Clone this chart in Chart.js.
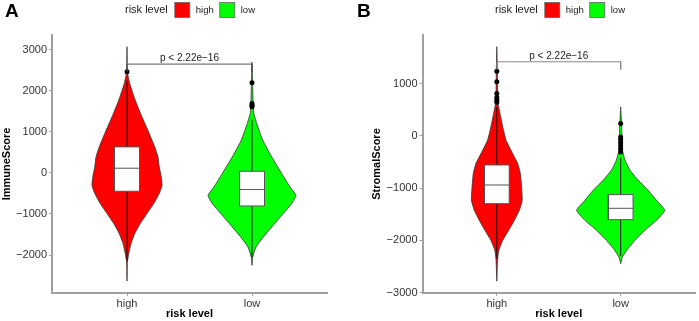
<!DOCTYPE html>
<html>
<head>
<meta charset="utf-8">
<script src="https://cdn.jsdelivr.net/npm/chart.js@4.4.1/dist/chart.umd.min.js"></script>
<style>
  html, body { margin: 0; padding: 0; background: #fff; }
  #wrap { display: flex; width: 699px; height: 321px; }
  .panel { position: relative; height: 321px; }
</style>
</head>
<body>
<div id="wrap">
  <div class="panel" style="width:350px"><canvas id="chartA"></canvas></div>
  <div class="panel" style="width:349px"><canvas id="chartB"></canvas></div>
</div>
<script>
// groups
const categories = ["high", "low"];
const groupColors = ["#ff0000", "#00ff00"];
const legendTitle = "risk level";
const pText = "p < 2.22e\u221216";

// panel A - ImmuneScore
const immuneTicks = [-2000, -1000, 0, 1000, 2000, 3000];
// violin outline: score levels and half widths (in category units)
const immuneHighLevels = [3073, 2463, 2180, 1773, 1366, 961, 634, 390, 146, -98, -300, -502, -746, -990, -1234, -1478, -1722, -1966, -2171, -2634];
const immuneHighWidths = [0, 0.003, 0.022, 0.066, 0.12, 0.178, 0.222, 0.248, 0.258, 0.274, 0.28, 0.258, 0.214, 0.16, 0.106, 0.062, 0.032, 0.014, 0.003, 0];
const immuneLowLevels = [2700, 2261, 1488, 1205, 798, 390, -15, -341, -544, -746, -990, -1317, -1561, -1805, -2049, -2251];
const immuneLowWidths = [0, 0.004, 0.012, 0.038, 0.086, 0.158, 0.238, 0.304, 0.352, 0.318, 0.25, 0.158, 0.09, 0.032, 0.006, 0];
// box: q1, median, q3
const immuneBoxHigh = [-446, 115, 634];
const immuneBoxLow = [-805, -405, 41];
const immuneWhiskerHigh = [-2150, 2250];
const immuneWhiskerLow = [-2050, 1300];
const immuneOutliersHigh = [2463];
const immuneOutliersLow = [2195, 1690, 1650, 1610];

// panel B - StromalScore
const stromalTicks = [-3000, -2000, -1000, 0, 1000];
const stromalHighLevels = [1705, 1259, 651, 429, 172, -82, -337, -529, -720, -977, -1232, -1423, -1615, -1807, -1998, -2190, -2381, -2778];
const stromalHighWidths = [0, 0.004, 0.008, 0.026, 0.048, 0.075, 0.128, 0.169, 0.19, 0.2, 0.205, 0.182, 0.142, 0.096, 0.048, 0.016, 0.006, 0];
const stromalLowLevels = [556, 200, -100, -274, -466, -657, -849, -1040, -1232, -1423, -1615, -1807, -1998, -2190, -2318, -2444];
const stromalLowWidths = [0, 0.008, 0.012, 0.014, 0.035, 0.075, 0.142, 0.222, 0.289, 0.356, 0.289, 0.195, 0.115, 0.048, 0.014, 0];
const stromalBoxHigh = [-1296, -939, -556];
const stromalBoxLow = [-1602, -1385, -1123];
const stromalWhiskerHigh = [-2350, 550];
const stromalWhiskerLow = [-2300, -420];
const stromalOutliersHigh = [1239, 1034, 812, 735, 684, 645];
const stromalOutliersLow = [238, -19, -70, -130, -190, -250, -307];

Chart.defaults.font.family = '"Liberation Sans", Arial, sans-serif';
Chart.defaults.animation = false;

const BOX_HALF = 0.1;

function violinPoints(center, levels, widths) {
    const right = levels.map((y, i) => ({ x: center + widths[i], y: y }));
    const left = levels.map((y, i) => ({ x: center - widths[i], y: y })).reverse();
    return right.concat(left, [right[0]]);
}

function boxPoints(center, box) {
    return [
        { x: center - BOX_HALF, y: box[0] }, { x: center + BOX_HALF, y: box[0] },
        { x: center + BOX_HALF, y: box[2] }, { x: center - BOX_HALF, y: box[2] },
        { x: center - BOX_HALF, y: box[0] }
    ];
}

// legend, panel tag and p value text
const extrasPlugin = {
    id: "extras",
    afterDraw(chart) {
        const o = chart.options.plugins.extras;
        const ctx = chart.ctx;
        const fam = Chart.defaults.font.family;
        ctx.save();
        ctx.fillStyle = "#000";
        ctx.textBaseline = "alphabetic";
        ctx.textAlign = "left";
        ctx.font = "bold 19px " + fam;
        ctx.fillText(o.tag, o.tagX, 17);

        // legend
        let x = o.legendX;
        ctx.font = "11px " + fam;
        ctx.fillStyle = "#1a1a1a";
        ctx.textBaseline = "middle";
        ctx.fillText(legendTitle, x, 10);
        x += ctx.measureText(legendTitle).width + 7;
        categories.forEach((c, i) => {
            ctx.fillStyle = groupColors[i];
            ctx.fillRect(x, 2.5, 15, 15);
            ctx.strokeStyle = "#666";
            ctx.lineWidth = 0.8;
            ctx.strokeRect(x, 2.5, 15, 15);
            x += 21;
            ctx.font = "9.5px " + fam;
            ctx.fillStyle = "#1a1a1a";
            ctx.fillText(c, x, 10);
            x += ctx.measureText(c).width + 6;
        });

        // p value
        const xs = chart.scales.x, ys = chart.scales.y;
        ctx.font = "10px " + fam;
        ctx.textAlign = "center";
        ctx.textBaseline = "bottom";
        ctx.fillStyle = "#222";
        ctx.fillText(pText, xs.getPixelForValue(1.5), ys.getPixelForValue(o.bracketY) - 1);
        ctx.restore();
    }
};

function drawPanel(canvasId, cfg) {
    const datasets = [];
    cfg.groups.forEach((g, i) => {
        const c = i + 1;
        datasets.push({
            data: violinPoints(c, g.levels, g.widths),
            showLine: true, fill: "shape", tension: 0.15,
            backgroundColor: groupColors[i], borderColor: "#333", borderWidth: 0.8,
            pointRadius: 0, order: 5
        });
        datasets.push({
            data: [{ x: c, y: g.whisker[0] }, { x: c, y: g.whisker[1] }],
            showLine: true, borderColor: "#111", borderWidth: 1, pointRadius: 0, order: 4
        });
        datasets.push({
            data: boxPoints(c, g.box),
            showLine: true, fill: "shape", backgroundColor: "#fff",
            borderColor: "#555", borderWidth: 1, pointRadius: 0, order: 3
        });
        datasets.push({
            data: [{ x: c - BOX_HALF, y: g.box[1] }, { x: c + BOX_HALF, y: g.box[1] }],
            showLine: true, borderColor: "#555", borderWidth: 1, pointRadius: 0, order: 2
        });
        datasets.push({
            data: g.outliers.map(v => ({ x: c, y: v })),
            pointRadius: 2.5, backgroundColor: "#000", borderWidth: 0, order: 1
        });
    });
    // significance bracket
    datasets.push({
        data: [
            { x: 1, y: cfg.bracketY - cfg.tip }, { x: 1, y: cfg.bracketY },
            { x: 2, y: cfg.bracketY }, { x: 2, y: cfg.bracketY - cfg.tip }
        ],
        showLine: true, borderColor: cfg.bracketColor, borderWidth: 1, pointRadius: 0, order: 0
    });

    new Chart(document.getElementById(canvasId), {
        type: "scatter",
        data: { datasets: datasets },
        options: {
            responsive: true,
            maintainAspectRatio: false,
            layout: { padding: { top: 35, left: cfg.padLeft, right: cfg.padRight, bottom: 0 } },
            plugins: {
                legend: { display: false },
                tooltip: { enabled: false },
                extras: { tag: cfg.tag, tagX: cfg.tagX, legendX: cfg.legendX, bracketY: cfg.bracketY }
            },
            scales: {
                x: {
                    type: "linear", min: 0.4, max: 2.6,
                    afterBuildTicks: s => { s.ticks = [{ value: 1 }, { value: 2 }]; },
                    afterFit: s => { s.height = 28; },
                    ticks: {
                        callback: v => categories[v - 1],
                        color: "#333", font: { size: 11 }, padding: 1, maxRotation: 0
                    },
                    grid: { drawOnChartArea: false, tickLength: 3, tickColor: "#a0a0a0", tickWidth: 1 },
                    border: { color: "#a0a0a0", width: 2 },
                    title: { display: true, text: "risk level", color: "#000", font: { size: 11, weight: "bold" }, padding: 0 }
                },
                y: {
                    min: cfg.yMin, max: cfg.yMax,
                    afterBuildTicks: s => { s.ticks = cfg.ticks.map(v => ({ value: v })); },
                    afterFit: s => { s.width = cfg.yWidth; },
                    ticks: {
                        callback: v => (v < 0 ? "\u2212" + Math.abs(v) : String(v)),
                        color: "#333", font: { size: 11 }, padding: 2
                    },
                    grid: { drawOnChartArea: false, tickLength: 3, tickColor: "#a0a0a0", tickWidth: 1 },
                    border: { color: "#a0a0a0", width: 2 },
                    title: { display: true, text: cfg.yTitle, color: "#000", font: { size: 11, weight: "bold" }, padding: 0 }
                }
            }
        },
        plugins: [extrasPlugin]
    });
}

drawPanel("chartA", {
    tag: "A", tagX: 5, legendX: 125,
    yTitle: "ImmuneScore", yMin: -2925, yMax: 3360, ticks: immuneTicks,
    padLeft: 0, padRight: 23, yWidth: 52,
    bracketY: 2651, tip: 190, bracketColor: "#555",
    groups: [
        { levels: immuneHighLevels, widths: immuneHighWidths, box: immuneBoxHigh, whisker: immuneWhiskerHigh, outliers: immuneOutliersHigh },
        { levels: immuneLowLevels, widths: immuneLowWidths, box: immuneBoxLow, whisker: immuneWhiskerLow, outliers: immuneOutliersLow }
    ]
});

drawPanel("chartB", {
    tag: "B", tagX: 7, legendX: 145,
    yTitle: "StromalScore", yMin: -3005, yMax: 1930, ticks: stromalTicks,
    padLeft: 20, padRight: 2, yWidth: 52.5,
    bracketY: 1418, tip: 148, bracketColor: "#888",
    groups: [
        { levels: stromalHighLevels, widths: stromalHighWidths, box: stromalBoxHigh, whisker: stromalWhiskerHigh, outliers: stromalOutliersHigh },
        { levels: stromalLowLevels, widths: stromalLowWidths, box: stromalBoxLow, whisker: stromalWhiskerLow, outliers: stromalOutliersLow }
    ]
});
</script>
</body>
</html>
